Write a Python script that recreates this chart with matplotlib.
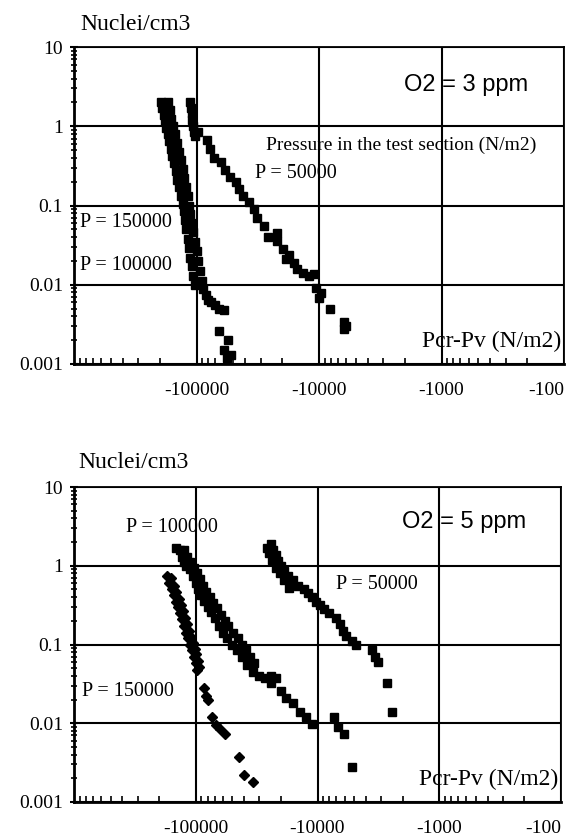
import numpy as np
import matplotlib
matplotlib.use('Agg')
import matplotlib.pyplot as plt
from matplotlib.ticker import LogLocator, NullFormatter

# fonts
serif = 'Liberation Serif'
sans = 'Liberation Sans'

# axis tick values and labels
x_ticks = [-100000, -10000, -1000, -100]
x_tick_labels = ['-100000', '-10000', '-1000', '-100']
y_ticks = [10, 1, 0.1, 0.01, 0.001]
y_tick_labels = ['10', '1', '0.1', '0.01', '0.001']

# ---- O2 = 3 ppm (top panel), Pcr-Pv (N/m2) vs nuclei/cm3 ----
top_p150_x = [-195000, -190000, -185000, -180000, -176000, -172000, -168000, -163000,
              -158000, -153000, -148000, -143000, -139000, -134000, -130000, -127000,
              -124000, -121000, -118000, -115000, -112000, -109000, -106000, -102000]
top_p150_y = [2.0, 1.7, 1.4, 1.15, 0.95, 0.8, 0.65, 0.52,
              0.42, 0.34, 0.27, 0.21, 0.17, 0.13, 0.105, 0.085,
              0.065, 0.05, 0.038, 0.029, 0.022, 0.017, 0.013, 0.010]

top_p100_x = [-170000, -165000, -160000, -155000, -150000, -145000, -140000, -135000,
              -130000, -126000, -122000, -118000, -115000, -112000, -109000, -106000,
              -103000, -100000, -97000, -94000, -91000, -88000, -84000, -80000,
              -76000, -70000, -65000, -60000, -66000, -55000, -60000, -52000, -56000]
top_p100_y = [2.0, 1.6, 1.25, 1.0, 0.8, 0.62, 0.48, 0.37,
              0.29, 0.22, 0.17, 0.13, 0.1, 0.078, 0.06, 0.046,
              0.035, 0.027, 0.02, 0.015, 0.011, 0.0088, 0.0075, 0.0065,
              0.006, 0.0055, 0.005, 0.0048, 0.0026, 0.002, 0.0015, 0.0013, 0.0012]

top_p50_x = [-112000, -110000, -109000, -108000, -107000, -105000, -102000, -97000,
             -82000, -78000, -72000, -63000, -58000, -53000, -48000, -45000,
             -42000, -37000, -34000, -32000, -28000, -26000, -22000, -22000,
             -19500, -17500, -18500, -16000, -15000, -13500, -12000, -11000,
             -10500, -9600, -10000, -8200, -6300, -6000, -6200]
top_p50_y = [2.0, 1.7, 1.45, 1.2, 1.0, 0.85, 0.75, 0.85,
             0.67, 0.52, 0.4, 0.35, 0.28, 0.23, 0.2, 0.16,
             0.13, 0.11, 0.09, 0.07, 0.055, 0.04, 0.045, 0.036,
             0.028, 0.024, 0.021, 0.019, 0.016, 0.014, 0.013, 0.0135,
             0.009, 0.0078, 0.0068, 0.005, 0.0034, 0.003, 0.0028]

# ---- O2 = 5 ppm (bottom panel) ----
bot_p150_x = [-172000, -165000, -158000, -150000, -145000, -140000, -135000, -130000,
              -125000, -120000, -116000, -112000, -108000, -104000, -100000, -97000,
              -160000, -152000, -145000, -138000, -132000, -127000, -122000, -117000,
              -113000, -109000, -105000, -102000, -99000, -96000, -94000,
              -86000, -82000, -79000, -73000, -68000, -63000, -58000, -44000,
              -40000, -34000]
bot_p150_y = [0.75, 0.6, 0.5, 0.42, 0.35, 0.3, 0.25, 0.21,
              0.17, 0.14, 0.12, 0.1, 0.085, 0.07, 0.058, 0.048,
              0.7, 0.56, 0.46, 0.38, 0.32, 0.27, 0.22, 0.18,
              0.15, 0.125, 0.105, 0.088, 0.075, 0.062, 0.052,
              0.028, 0.022, 0.02, 0.012, 0.0095, 0.0085, 0.0072, 0.0037,
              0.0022, 0.0018]

bot_p100_x = [-135000, -130000, -125000, -120000, -112000, -105000, -100000, -95000,
              -90000, -85000, -80000, -75000, -70000, -65000, -60000, -55000,
              -50000, -46000, -42000, -38000, -34000, -30000, -27000, -24000,
              -22000, -24000, -20000, -18000, -16000, -14000, -12500, -11000,
              -145000, -125000, -118000, -112000, -104000, -98000, -92000, -87000,
              -82000, -77000, -72000, -67000, -62000, -58000, -54000, -49000,
              -45000, -42000, -39000, -36000, -33000,
              -7300, -6800, -6100, -5200]
bot_p100_y = [1.6, 1.3, 1.1, 1.0, 0.9, 0.75, 0.6, 0.5,
              0.42, 0.36, 0.3, 0.26, 0.22, 0.17, 0.14, 0.12,
              0.1, 0.085, 0.07, 0.055, 0.045, 0.04, 0.038, 0.04,
              0.038, 0.032, 0.026, 0.021, 0.018, 0.014, 0.012, 0.0098,
              1.7, 1.6, 1.3, 1.1, 0.95, 0.8, 0.68, 0.56,
              0.47, 0.4, 0.34, 0.29, 0.24, 0.2, 0.17, 0.14,
              0.12, 0.1, 0.085, 0.07, 0.058,
              0.012, 0.009, 0.0072, 0.0028]

bot_p50_x = [-24000, -23000, -22000, -21000, -20000, -19000, -17500, -16000,
             -14500, -13000, -12000, -11000, -10200, -9500, -8800, -8000,
             -7000, -6500, -6200, -5800, -5200, -4800, -3600, -3400,
             -3200, -2700, -2450,
             -26000, -25000, -23500, -22000, -20500, -19000, -17000]
bot_p50_y = [1.9, 1.6, 1.35, 1.15, 1.0, 0.85, 0.75, 0.65,
             0.55, 0.5, 0.45, 0.4, 0.35, 0.32, 0.28, 0.25,
             0.22, 0.18, 0.15, 0.13, 0.11, 0.1, 0.085, 0.07,
             0.06, 0.032, 0.014,
             1.7, 1.45, 1.2, 0.95, 0.8, 0.65, 0.52]


def style_axis(ax):
    """
    Sets up the reversed log x axis (magnitude of Pcr-Pv), log y axis, grid and ticks
    """
    ax.set_xscale('log')
    ax.set_yscale('log')
    # x is plotted as |Pcr-Pv| so the axis runs from -1e6 on the left to -100 on the right
    ax.set_xlim(1e6, 1e2)
    ax.set_ylim(0.001, 10)

    ax.set_xticks([abs(v) for v in x_ticks])
    ax.set_xticklabels(x_tick_labels, fontfamily=serif, fontsize=14)
    ax.get_xticklabels()[-1].set_horizontalalignment('right')
    ax.set_yticks(y_ticks)
    ax.set_yticklabels(y_tick_labels, fontfamily=serif, fontsize=14)

    ax.xaxis.set_minor_locator(LogLocator(base=10, subs=np.arange(2, 10)))
    ax.yaxis.set_minor_locator(LogLocator(base=10, subs=np.arange(2, 10)))
    ax.xaxis.set_minor_formatter(NullFormatter())
    ax.yaxis.set_minor_formatter(NullFormatter())

    ax.tick_params(axis='x', which='major', direction='in', length=0, pad=13)
    ax.tick_params(axis='y', which='major', direction='inout', length=6, width=1.5, pad=5)
    ax.tick_params(axis='x', which='minor', direction='in', length=4, width=1.2)
    ax.tick_params(axis='y', which='minor', direction='inout', length=5, width=1.2)

    ax.grid(True, which='major', color='black', linewidth=1.5)
    for side in ['left', 'bottom']:
        ax.spines[side].set_linewidth(2.0)
    for side in ['top', 'right']:
        ax.spines[side].set_linewidth(1.3)


def plot_series(ax, xs, ys, marker='s', ms=5.2):
    """
    Plots one data series as black markers (x given as negative Pcr-Pv values)
    """
    ax.plot(np.abs(np.array(xs)), ys, linestyle='none', marker=marker, ms=ms,
            color='black', markeredgecolor='black')


fig = plt.figure(figsize=(5.68, 8.39), dpi=100)
ax_top = fig.add_axes([74 / 568, 1 - 364 / 839, 490 / 568, 317 / 839])
ax_bot = fig.add_axes([74 / 568, 1 - 802 / 839, 487 / 568, 315 / 839])

# top panel: O2 = 3 ppm
style_axis(ax_top)
plot_series(ax_top, top_p150_x, top_p150_y)
plot_series(ax_top, top_p100_x, top_p100_y)
plot_series(ax_top, top_p50_x, top_p50_y)

ax_top.text(0.80, 0.88, 'O2 = 3 ppm', transform=ax_top.transAxes, ha='center', va='center',
            fontfamily=sans, fontsize=17)
ax_top.text(0.667, 0.69, 'Pressure in the test section (N/m2)', transform=ax_top.transAxes,
            ha='center', va='center', fontfamily=serif, fontsize=14)
ax_top.text(0.453, 0.60, 'P = 50000', transform=ax_top.transAxes, ha='center', va='center',
            fontfamily=serif, fontsize=14.5)
ax_top.text(0.012, 0.445, 'P = 150000', transform=ax_top.transAxes, ha='left', va='center',
            fontfamily=serif, fontsize=14.5)
ax_top.text(0.012, 0.31, 'P = 100000', transform=ax_top.transAxes, ha='left', va='center',
            fontfamily=serif, fontsize=14.5)
ax_top.text(0.995, 0.07, 'Pcr-Pv (N/m2)', transform=ax_top.transAxes, ha='right', va='center',
            fontfamily=serif, fontsize=17)
fig.text(80 / 568, 1 - 25 / 839, 'Nuclei/cm3', ha='left', va='center',
         fontfamily=serif, fontsize=17)

# bottom panel: O2 = 5 ppm
style_axis(ax_bot)
plot_series(ax_bot, bot_p150_x, bot_p150_y, marker='D', ms=4.8)
plot_series(ax_bot, bot_p100_x, bot_p100_y)
plot_series(ax_bot, bot_p50_x, bot_p50_y)

ax_bot.text(0.80, 0.889, 'O2 = 5 ppm', transform=ax_bot.transAxes, ha='center', va='center',
            fontfamily=sans, fontsize=17)
ax_bot.text(0.201, 0.873, 'P = 100000', transform=ax_bot.transAxes, ha='center', va='center',
            fontfamily=serif, fontsize=14.5)
ax_bot.text(0.622, 0.689, 'P = 50000', transform=ax_bot.transAxes, ha='center', va='center',
            fontfamily=serif, fontsize=14.5)
ax_bot.text(0.017, 0.35, 'P = 150000', transform=ax_bot.transAxes, ha='left', va='center',
            fontfamily=serif, fontsize=14.5)
ax_bot.text(0.995, 0.07, 'Pcr-Pv (N/m2)', transform=ax_bot.transAxes, ha='right', va='center',
            fontfamily=serif, fontsize=17)
fig.text(78 / 568, 1 - 462 / 839, 'Nuclei/cm3', ha='left', va='center',
         fontfamily=serif, fontsize=17)

fig.savefig('out.png', dpi=100)
